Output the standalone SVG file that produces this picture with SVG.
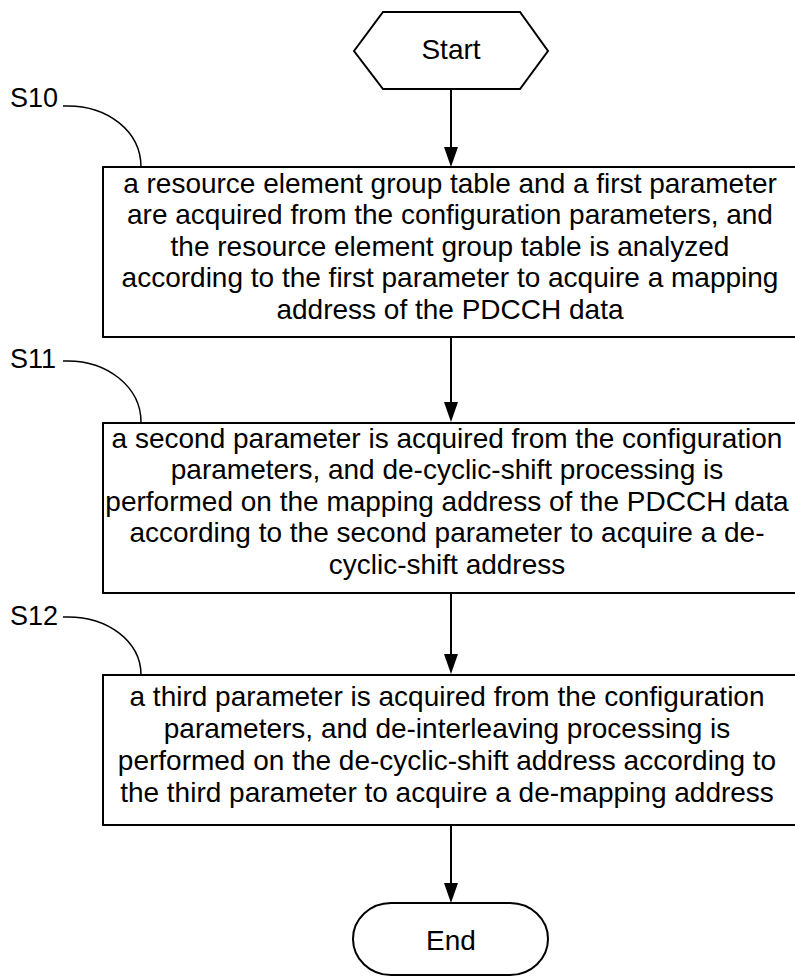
<svg xmlns="http://www.w3.org/2000/svg" width="795" height="979" viewBox="0 0 795 979">
<style>
.s{fill:#fff;stroke:#000;stroke-width:2}
.t{font-family:"Liberation Sans",Arial,sans-serif;font-size:28px;fill:#000;text-anchor:middle}
.l{font-family:"Liberation Sans",Arial,sans-serif;font-size:27px;fill:#000}
.c{fill:none;stroke:#000;stroke-width:1.5}
.a{stroke:#000;stroke-width:2}
</style>
<g id="connectors">
<line class="a" x1="451" y1="89" x2="451" y2="150"/>
<line class="a" x1="451" y1="337" x2="451" y2="405"/>
<line class="a" x1="451" y1="593" x2="451" y2="657"/>
<line class="a" x1="451" y1="825" x2="451" y2="886"/>
<path d="M444,147 L458,147 L451,167 Z"/>
<path d="M444,402 L458,402 L451,422 Z"/>
<path d="M444,654 L458,654 L451,674 Z"/>
<path d="M444,883 L458,883 L451,903 Z"/>
<path class="c" d="M63,106 C108,104 141,132 141,167"/>
<path class="c" d="M63,361 C108,359 141,388 141,422"/>
<path class="c" d="M63,617 C108,615 141,642 141,675"/>
</g>
<g id="start">
<polygon class="s" points="354,51 383,12 520,12 548,51 520,89 383,89"/>
<text class="t" x="451" y="59">Start</text>
</g>
<g id="S10">
<text class="l" x="10" y="107">S10</text>
</g>
<g id="S11">
<text class="l" x="10" y="368">S11</text>
</g>
<g id="S12">
<text class="l" x="10" y="625">S12</text>
</g>
<g id="step10">
<rect class="s" x="103" y="167" width="694" height="170"/>
<text class="t" x="450" y="193">a resource element group table and a first parameter</text>
<text class="t" x="450" y="224">are acquired from the configuration parameters, and</text>
<text class="t" x="450" y="255.5">the resource element group table is analyzed</text>
<text class="t" x="450" y="287">according to the first parameter to acquire a mapping</text>
<text class="t" x="450" y="318.5">address of the PDCCH data</text>
</g>
<g id="step11">
<rect class="s" x="103" y="423" width="694" height="170"/>
<text class="t" x="447" y="448">a second parameter is acquired from the configuration</text>
<text class="t" x="447" y="479">parameters, and de-cyclic-shift processing is</text>
<text class="t" x="447" y="510.5">performed on the mapping address of the PDCCH data</text>
<text class="t" x="447" y="542">according to the second parameter to acquire a de-</text>
<text class="t" x="447" y="573.5">cyclic-shift address</text>
</g>
<g id="step12">
<rect class="s" x="103" y="675" width="694" height="150"/>
<text class="t" x="447" y="706">a third parameter is acquired from the configuration</text>
<text class="t" x="447" y="738">parameters, and de-interleaving processing is</text>
<text class="t" x="447" y="770">performed on the de-cyclic-shift address according to</text>
<text class="t" x="447" y="801.5">the third parameter to acquire a de-mapping address</text>
</g>
<g id="end">
<rect class="s" x="353" y="903" width="195" height="72" rx="38" ry="36"/>
<text class="t" x="451" y="950">End</text>
</g>
</svg>
